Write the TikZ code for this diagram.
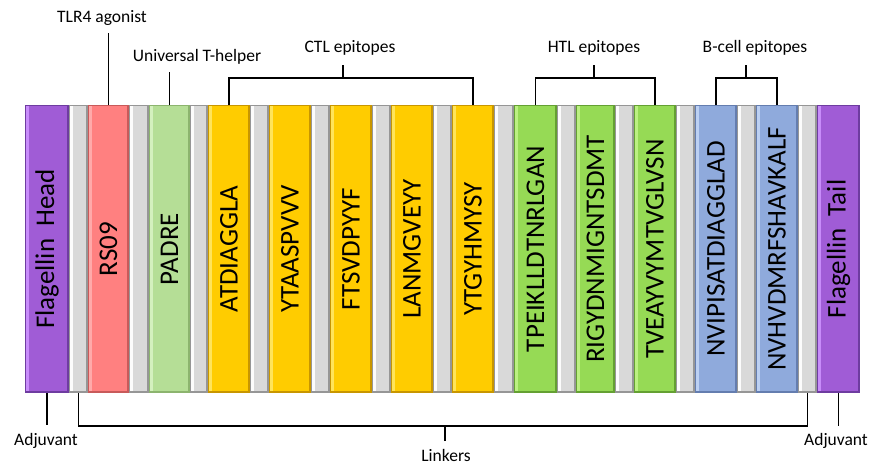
\documentclass[tikz,border=0pt]{standalone}
\usepackage{fontspec}
\setmainfont{Carlito}
\definecolor{purp}{RGB}{160,92,214}
\definecolor{purpL}{RGB}{200,140,250}
\definecolor{purpD}{RGB}{110,60,160}
\definecolor{lnk}{RGB}{217,217,217}
\definecolor{lnkL}{RGB}{252,252,252}
\definecolor{lnkD}{RGB}{150,150,150}
\definecolor{salm}{RGB}{255,128,128}
\definecolor{salmL}{RGB}{255,170,170}
\definecolor{salmD}{RGB}{200,90,90}
\definecolor{pgreen}{RGB}{181,222,150}
\definecolor{pgreenL}{RGB}{212,240,190}
\definecolor{pgreenD}{RGB}{140,180,110}
\definecolor{yel}{RGB}{255,204,0}
\definecolor{yelL}{RGB}{255,228,90}
\definecolor{yelD}{RGB}{200,150,0}
\definecolor{grn}{RGB}{150,218,85}
\definecolor{grnL}{RGB}{188,240,130}
\definecolor{grnD}{RGB}{100,160,50}
\definecolor{blu}{RGB}{143,170,220}
\definecolor{bluL}{RGB}{188,208,242}
\definecolor{bluD}{RGB}{100,125,175}
\tikzset{
  blk/.style n args={3}{fill=#1, inner sep=0pt, outer sep=0pt,
    minimum height=288pt, anchor=north west,
    path picture={
      \fill[#3] (path picture bounding box.north west) rectangle (path picture bounding box.south east);
      \fill[#1] ([xshift=1pt,yshift=-1pt]path picture bounding box.north west)
        rectangle ([xshift=-2.5pt,yshift=2.5pt]path picture bounding box.south east);
      \fill[#2] ([xshift=1pt,yshift=-1pt]path picture bounding box.north west)
        rectangle ([xshift=3.5pt,yshift=2.5pt]path picture bounding box.south west);
    }},
  seqtxt/.style={rotate=90, inner sep=0pt, font=\fontsize{27}{30}\selectfont},
  lbl/.style={inner sep=0pt, font=\fontsize{17.5}{20}\selectfont},
  brk/.style={line width=1.8pt}
}
\begin{document}
\begin{tikzpicture}[x=1pt, y=-1pt, line join=miter, line cap=butt]
  \useasboundingbox (0,0) rectangle (870,464);

  % linkers
  \foreach \a/\b [count=\i] in {69/88, 129/149, 190/208, 250/269, 311/330, 372/391,
      433/452, 494/514, 557/576, 615/634, 676/695, 737/756, 798/817}
    \node[blk={lnk}{lnkL}{lnkD}, minimum width={(\b-\a)*1pt}] (L\i) at (\a,105) {};

  % segments
  \node[blk={purp}{purpL}{purpD}, minimum width=44pt] (head) at (25,105) {};
  \node[blk={salm}{salmL}{salmD}, minimum width=41pt] (rs) at (88,105) {};
  \node[blk={pgreen}{pgreenL}{pgreenD}, minimum width=41pt] (padre) at (149,105) {};
  \node[blk={yel}{yelL}{yelD}, minimum width=42pt] (ctl1) at (208,105) {};
  \node[blk={yel}{yelL}{yelD}, minimum width=42pt] (ctl2) at (269,105) {};
  \node[blk={yel}{yelL}{yelD}, minimum width=42pt] (ctl3) at (330,105) {};
  \node[blk={yel}{yelL}{yelD}, minimum width=42pt] (ctl4) at (391,105) {};
  \node[blk={yel}{yelL}{yelD}, minimum width=42pt] (ctl5) at (452,105) {};
  \node[blk={grn}{grnL}{grnD}, minimum width=43pt] (htl1) at (514,105) {};
  \node[blk={grn}{grnL}{grnD}, minimum width=39pt] (htl2) at (576,105) {};
  \node[blk={grn}{grnL}{grnD}, minimum width=42pt] (htl3) at (634,105) {};
  \node[blk={blu}{bluL}{bluD}, minimum width=42pt] (bc1) at (695,105) {};
  \node[blk={blu}{bluL}{bluD}, minimum width=42pt] (bc2) at (756,105) {};
  \node[blk={purp}{purpL}{purpD}, minimum width=43pt] (tail) at (817,105) {};

  % texts in the segments
  \node[seqtxt] (head-t) at (head.center) {Flagellin\hspace{0.45em}Head};
  \node[seqtxt] (rs-t) at (rs.center) {RS09};
  \node[seqtxt] (padre-t) at (padre.center) {PADRE};
  \node[seqtxt] (ctl1-t) at (ctl1.center) {ATDIAGGLA};
  \node[seqtxt] (ctl2-t) at (ctl2.center) {YTAASPVVV};
  \node[seqtxt] (ctl3-t) at (ctl3.center) {FTSVDPYYF};
  \node[seqtxt] (ctl4-t) at (ctl4.center) {LANMGVEYY};
  \node[seqtxt] (ctl5-t) at (ctl5.center) {YTGYHMYSY};
  \node[seqtxt] (htl1-t) at (htl1.center) {TPEIKLLDTNRLGAN};
  \node[seqtxt] (htl2-t) at (htl2.center) {RIGYDNMIGNTSDMT};
  \node[seqtxt] (htl3-t) at (htl3.center) {TVEAYVYMTVGLVSN};
  \node[seqtxt] (bc1-t) at (bc1.center) {NVIPISATDIAGGLAD};
  \node[seqtxt] (bc2-t) at (bc2.center) {NVHVDMRFSHAVKALF};
  \node[seqtxt] (tail-t) at (tail.center) {Flagellin\hspace{0.45em}Tail};

  % labels
  \node[lbl] (tlr) at (102,18) {TLR4 agonist};
  \node[lbl] (uth) at (197,57) {Universal T-helper};
  \node[lbl] (ctl) at (350,48) {CTL epitopes};
  \node[lbl] (htl) at (594,48) {HTL epitopes};
  \node[lbl] (bcell) at (755,48) {B-cell epitopes};
  \node[lbl] (adjL) at (46,441) {Adjuvant};
  \node[lbl] (adjR) at (836,441) {Adjuvant};
  \node[lbl] (lnkers) at (446,455) {Linkers};

  % connectors
  \coordinate (tlrEnd) at (108.5,33);
  \coordinate (uthEnd) at (169.5,72);
  \coordinate (ctlEnd) at (343,65);
  \coordinate (htlEnd) at (594,65);
  \coordinate (bcEnd) at (746,65);
  \coordinate (lnkEnd) at (445,441);
  \draw[brk] (rs.north) -- (tlrEnd);
  \draw[brk] (padre.north) -- (uthEnd);
  \draw[brk] (ctl1.north) -- ++(0,-27) -| (ctl5.north);
  \draw[brk] (ctlEnd) -- (ctlEnd |- 0,78);
  \draw[brk] (htl1.north) -- ++(0,-27) -| (htl3.north);
  \draw[brk] (htlEnd) -- (htlEnd |- 0,78);
  \draw[brk] (bc1.north) -- ++(0,-27) -| (bc2.north);
  \draw[brk] (bcEnd) -- (bcEnd |- 0,78);
  \draw[brk] (head.south) -- ++(0,32);
  \draw[brk] (tail.south) -- ++(0,33);
  \draw[brk] (L1.south) -- ++(0,33) -| (L13.south);
  \draw[brk] (lnkEnd) -- (lnkEnd |- 0,426);
\end{tikzpicture}
\end{document}
